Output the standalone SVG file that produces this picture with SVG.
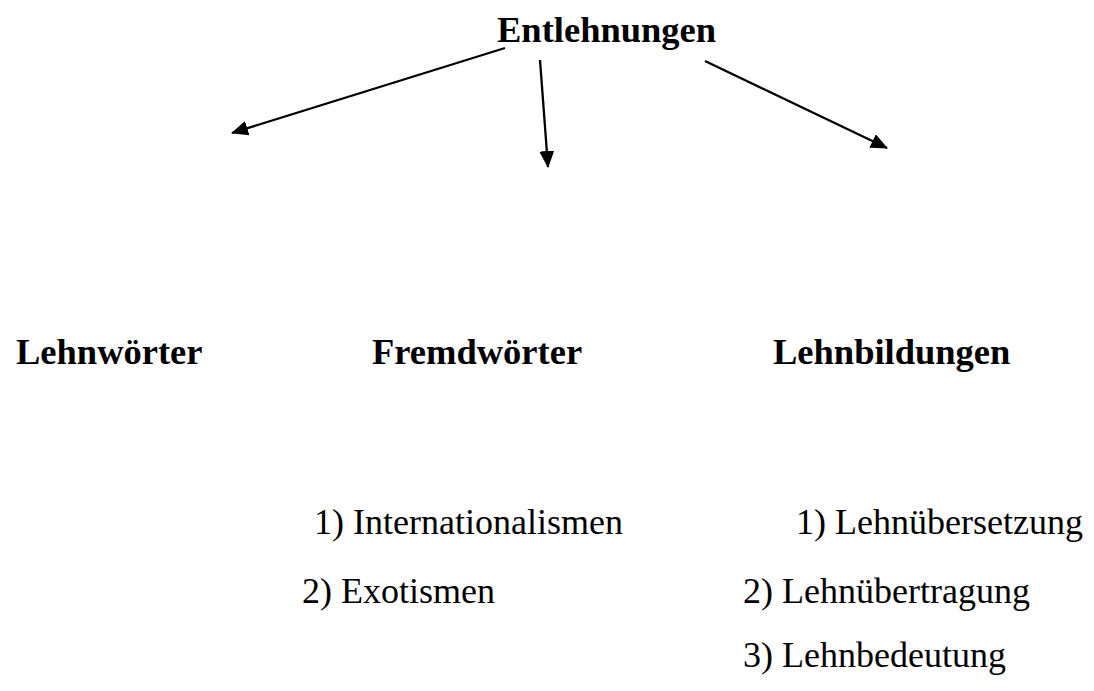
<svg xmlns="http://www.w3.org/2000/svg" width="1094" height="691" viewBox="0 0 1094 691">
<style>
.b{font-family:"Liberation Serif","Times New Roman",serif;font-weight:bold;font-size:36.5px;fill:#000}
.r{font-family:"Liberation Serif","Times New Roman",serif;font-size:36px;fill:#000}
.c{stroke:#000;stroke-width:2.3;fill:none}
</style>
<defs>
<marker id="ah" markerWidth="17" markerHeight="15" refX="16" refY="7.5" orient="auto" markerUnits="userSpaceOnUse">
<path d="M0,0 L17,7.5 L0,15 Z" fill="#000"/>
</marker>
</defs>
<rect width="1094" height="691" fill="#fff"/>
<g id="connectors">
<line class="c" x1="505" y1="48" x2="232" y2="133" marker-end="url(#ah)"/>
<line class="c" x1="540" y1="60" x2="548" y2="167" marker-end="url(#ah)"/>
<line class="c" x1="705" y1="61" x2="887" y2="148" marker-end="url(#ah)"/>
</g>
<g id="entlehnungen"><text class="b" x="497" y="42">Entlehnungen</text></g>
<g id="lehnwoerter"><text class="b" x="16" y="364">Lehnwörter</text></g>
<g id="fremdwoerter"><text class="b" x="372" y="364">Fremdwörter</text></g>
<g id="lehnbildungen"><text class="b" x="773" y="364">Lehnbildungen</text></g>
<g id="internationalismen"><text class="r" x="314" y="534">1) Internationalismen</text></g>
<g id="exotismen"><text class="r" x="302" y="603">2) Exotismen</text></g>
<g id="lehnuebersetzung"><text class="r" x="796" y="534">1) Lehnübersetzung</text></g>
<g id="lehnuebertragung"><text class="r" x="743" y="603">2) Lehnübertragung</text></g>
<g id="lehnbedeutung"><text class="r" x="743" y="667">3) Lehnbedeutung</text></g>
</svg>
